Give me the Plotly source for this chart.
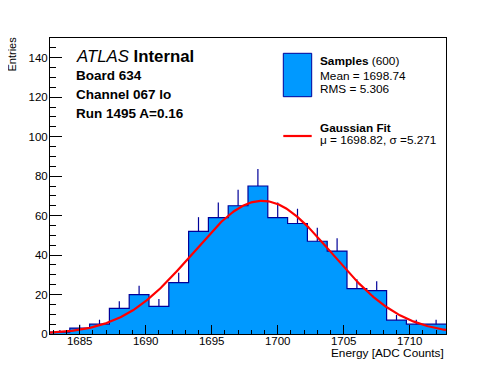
import numpy as np
import plotly.graph_objects as go

# ---- data ----
bin_edges_start = 1682.75
bin_width = 1.5
counts = [1, 3, 5, 13, 20, 14, 26, 52, 59, 65, 75, 59, 56, 47, 42, 23, 22, 7, 5, 5]
fit_mu = 1698.82
fit_sigma = 5.271
fit_const = 67.5
x_tick_vals = [1685, 1690, 1695, 1700, 1705, 1710]
y_tick_vals = [0, 20, 40, 60, 80, 100, 120, 140]

# page has an 8px body margin; figure sized to fill the rest of the window
OFF = 8
W, H = 496 - OFF, 372 - OFF
L, R, T, B = 50, 446, 38, 334   # plot frame in window pixels
FONT = "Liberation Sans, Arial, Helvetica, sans-serif"
FILL = "#0099ff"
NAVY = "#000099"

edges = [bin_edges_start + i * bin_width for i in range(len(counts) + 1)]
centers = [e + bin_width / 2 for e in edges[:-1]]
errs = [float(np.sqrt(c)) for c in counts]
xmin, xmax = edges[0], edges[-1]

def px(x):
    return (x - L) / (R - L)

def py(y):
    return (B - y) / (B - T)

fig = go.Figure()
# histogram (stepped outline with fill)
fig.add_trace(go.Scatter(
    x=edges, y=counts + [counts[-1]], mode="lines", line=dict(shape="hv", color=NAVY, width=1.2),
    fill="tozeroy", fillcolor=FILL, hoverinfo="skip", showlegend=False))
# error bars (upper part visible)
fig.add_trace(go.Scatter(
    x=centers, y=counts, mode="markers", marker=dict(size=1, color="rgba(0,0,0,0)"),
    error_y=dict(type="data", symmetric=False, array=errs, arrayminus=[0] * len(errs),
                 color=NAVY, thickness=1.2, width=0),
    showlegend=False, hoverinfo="skip"))
# gaussian fit
xf = np.linspace(xmin, xmax, 400)
yf = fit_const * np.exp(-0.5 * ((xf - fit_mu) / fit_sigma) ** 2)
fig.add_trace(go.Scatter(x=xf, y=yf, mode="lines", line=dict(color="#ff0000", width=2.2),
                         showlegend=False, hoverinfo="skip"))

axis_common = dict(showgrid=False, zeroline=False, showline=True, linecolor="black", linewidth=1,
                   mirror=True, ticks="inside", tickcolor="black", tickwidth=1,
                   tickfont=dict(family=FONT, size=11.5, color="black"))
fig.update_xaxes(range=[xmin, xmax], tickvals=x_tick_vals, ticklen=9, ticklabelstandoff=-4,
                 minor=dict(dtick=1, tick0=1685, ticks="inside", ticklen=4.5, tickcolor="black", tickwidth=1),
                 **axis_common)
fig.update_yaxes(range=[0, 150], tickvals=y_tick_vals, ticklen=12, ticklabelstandoff=-1,
                 minor=dict(dtick=5, tick0=0, ticks="inside", ticklen=6, tickcolor="black", tickwidth=1),
                 **axis_common)

ann = []
def text(x, y_base, s, size, xanchor="left"):
    ann.append(dict(x=px(x), y=py(y_base - 0.36 * size), xref="paper", yref="paper", text=s,
                    showarrow=False, xanchor=xanchor, yanchor="middle",
                    font=dict(family=FONT, size=size, color="black")))

text(74, 62.3, "<i>ATLAS</i> <b>Internal</b>", 16.8)
text(74, 80, "<b>Board 634</b>", 13.5)
text(74, 99, "<b>Channel 067 lo</b>", 13.5)
text(74, 118.7, "<b>Run 1495 A=0.16</b>", 13.5)

text(317.7, 65, "<b>Samples</b> (600)", 11.8)
text(317.7, 80.7, "Mean = 1698.74", 11.8)
text(317.7, 93.3, "RMS = 5.306", 11.8)
text(317.7, 132.7, "<b>Gaussian Fit</b>", 11.8)
text(317.7, 144.3, "\u03bc = 1698.82, \u03c3 =5.271", 11.8)

text(446, 357.3, "Energy [ADC Counts]", 11.8, xanchor="right")
ann.append(dict(x=px(11), y=py(35), xref="paper", yref="paper", text="Entries", textangle=-90,
                showarrow=False, xanchor="center", yanchor="top",
                font=dict(family=FONT, size=11, color="black")))

shapes = [
    dict(type="rect", xref="paper", yref="paper", x0=px(283.3), x1=px(311.7), y0=py(96.7), y1=py(53.3),
         fillcolor=FILL, line=dict(color=NAVY, width=1)),
    dict(type="line", xref="paper", yref="paper", x0=px(283.3), x1=px(311.7), y0=py(136), y1=py(136),
         line=dict(color="#ff0000", width=2.2)),
]

fig.update_layout(width=W, height=H,
                  margin=dict(l=L - OFF, r=496 - R, t=T - OFF, b=372 - B, pad=0),
                  paper_bgcolor="white", plot_bgcolor="white", annotations=ann, shapes=shapes,
                  showlegend=False)
fig.write_html("out.html")
